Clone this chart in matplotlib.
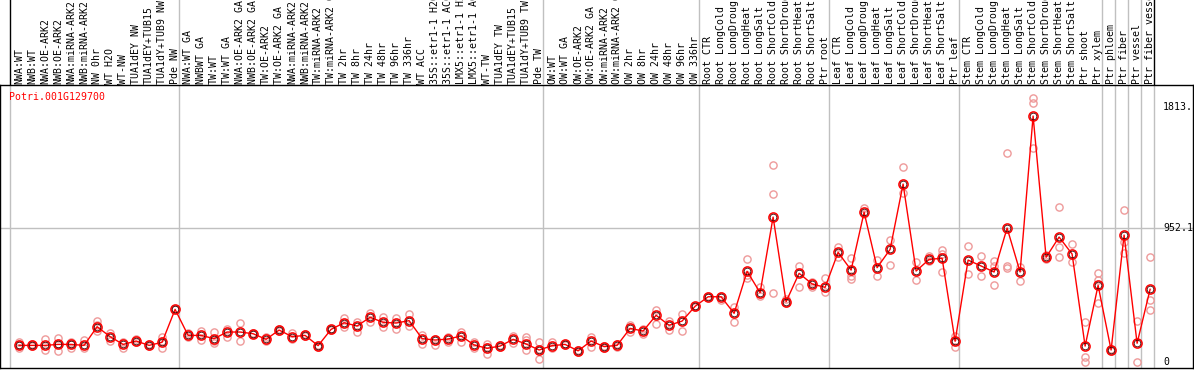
import matplotlib
matplotlib.use("Agg")
import matplotlib.pyplot as plt
import matplotlib.transforms as mtransforms
import numpy as np

# sample names, in the order they are plotted
labels = [
    "NWA:WT", "NWB:WT", "NWA:OE-ARK2", "NWB:OE-ARK2", "NWA:miRNA-ARK2", "NWB:miRNA-ARK2",
    "NW 0hr", "WT H2O", "WT-NW", "TUA1dEY NW", "TUA1dEY+TUB15", "TUA1dY+TUB9 NW", "Pde NW",
    "NWA:WT GA", "NWBWT GA", "TW:WT", "TW:WT GA", "NWA:OE-ARK2 GA", "NWB:OE-ARK2 GA",
    "TW:OE-ARK2", "TW:OE-ARK2 GA", "NWA:miRNA-ARK2", "NWB:miRNA-ARK2", "TW:miRNA-ARK2",
    "TW:miRNA-ARK2 GA", "TW 2hr", "TW 8hr", "TW 24hr", "TW 48hr", "TW 96hr", "TW 336hr",
    "WT ACC", "35S::etr1-1 H2O", "35S::etr1-1 ACC", "LMX5::etr1-1 H2O", "LMX5::etr1-1 ACC",
    "WT-TW", "TUA1dEY TW", "TUA1dEY+TUB15", "TUA1dY+TUB9 TW", "Pde TW",
    "OW:WT", "OW:WT GA", "OW:OE-ARK2", "OW:OE-ARK2 GA", "OW:miRNA-ARK2", "OW:miRNA-ARK2 GA",
    "OW 2hr", "OW 8hr", "OW 24hr", "OW 48hr", "OW 96hr", "OW 336hr",
    "Root CTR", "Root LongCold", "Root LongDrought", "Root LongHeat", "Root LongSalt",
    "Root ShortCold", "Root ShortDrought", "Root ShortHeat", "Root ShortSalt", "Ptr root",
    "Leaf CTR", "Leaf LongCold", "Leaf LongDrought", "Leaf LongHeat", "Leaf LongSalt",
    "Leaf ShortCold", "Leaf ShortDrought", "Leaf ShortHeat", "Leaf ShortSalt", "Ptr leaf",
    "Stem CTR", "Stem LongCold", "Stem LongDrought", "Stem LongHeat", "Stem LongSalt",
    "Stem ShortCold", "Stem ShortDrought", "Stem ShortHeat", "Stem ShortSalt",
    "Ptr shoot", "Ptr xylem", "Ptr phloem", "Ptr fiber", "Ptr vessel", "Ptr fiber vessel",
]
group_sizes = [13, 28, 12, 10, 10, 11, 1, 1, 1, 1]

means = [
    117, 117, 117, 124, 124, 117, 250, 179, 124, 148, 117, 139, 373,
    188, 188, 165, 212, 212, 200, 160, 226, 179, 188, 115, 231, 278, 255, 317, 281, 276,
    293, 165, 155, 162, 184, 120, 96, 112, 160, 127, 84,
    115, 124, 78, 148, 108, 117, 238, 219, 331, 260, 290, 395,
    463, 463, 345, 644, 492, 1030, 428, 630, 554, 530,
    779, 653, 1064, 670, 800, 1265, 646, 729, 737, 146,
    724, 682, 639, 952, 639, 1749, 744, 888, 767, 112, 544,
    84, 902, 132, 516,
]

reps = [
    [141, 96, 117], [117, 124, 110], [160, 86], [167, 75, 128], [139, 96, 130], [155, 96],
    [293, 222, 260], [203, 150], [139, 96], [160, 140], [124, 112], [179, 96, 150], [373, 378],
    [203, 174], [222, 155], [210, 136, 150], [236, 179], [278, 148], [205, 195], [174, 150],
    [232, 220], [203, 160], [195, 182], [122, 108], [236, 226], [309, 250], [285, 212],
    [345, 285], [321, 250], [314, 231], [340, 255], [191, 124], [160, 120], [174, 141],
    [214, 143], [143, 96], [127, 56, 105], [117, 108], [186, 136], [174, 155, 84], [141, 18, 90],
    [141, 96], [130, 118], [84, 72], [179, 108], [115, 100], [124, 108], [260, 210], [230, 196],
    [369, 269], [293, 226], [340, 222], [400, 390],
    [468, 458], [440, 470], [388, 285], [729, 594, 620], [530, 470], [1399, 1194, 487],
    [450, 420], [682, 530], [570, 530], [594, 499],
    [819, 748], [737, 611, 589], [1092, 1050], [724, 611], [867, 687], [1384, 1199],
    [708, 582], [750, 720], [796, 639, 770], [184, 108, 150],
    [824, 625], [753, 611], [717, 547, 680], [1484, 682, 665], [677, 575], [1875, 1844, 1520],
    [760, 730], [1100, 819, 744], [838, 712], [281, 32, 1], [630, 582, 421],
    [90, 80], [1080, 855, 777], [293, 0], [744, 438, 367],
]

gene = "Potri.001G129700"
ytick_vals = [0, 952.1, 1813]
ytick_text = ["0", "952.1", "1813."]

W, H = 1194, 370
fig = plt.figure(figsize=(W / 100, H / 100), dpi=100)
mono = "DejaVu Sans Mono"
grey = "#c0c0c0"

n = len(labels)
xpos = np.arange(n) + 0.7
bounds = np.concatenate([[0], np.cumsum(group_sizes)])
xlim = (-10 / 13, (W - 1 - 10) / 13)

# main plot area
ax = fig.add_axes([0, 2 / H, (W - 1) / W, 283 / H])
ax.set_xlim(*xlim)
ax.set_ylim(-44, 1970)
ax.set_xticks([])
ax.set_yticks([])
for s in ax.spines.values():
    s.set_color("black")
    s.set_linewidth(1)

for b in bounds:
    ax.axvline(b, color=grey, lw=1, zorder=1)
ax.axhline(ytick_vals[1], color=grey, lw=1, zorder=1)

for x, r in zip(xpos, reps):
    ax.plot([x] * len(r), r, "o", ms=5.2, mfc="none", mec="#ee9a9a", mew=1.0, zorder=2)
ax.plot(xpos, means, "-", color="red", lw=1.0, zorder=3)
ax.plot(xpos, means, "o", ms=6.6, mfc="none", mec="red", mew=1.1, zorder=4)
ax.plot(xpos, means, "o", ms=4.8, mfc="none", mec="#400000", mew=0.6, zorder=5)

tr = mtransforms.blended_transform_factory(ax.transAxes, ax.transData)
for v, t in zip(ytick_vals, ytick_text):
    ax.text(1163 / (W - 1), v, t, transform=tr, ha="left", va="center",
            family=mono, fontsize=7.1, color="black")

ax.text(9 / (W - 1), 1 - 11.5 / 283, gene, transform=ax.transAxes, ha="left", va="center",
        family=mono, fontsize=7.1, color="red")

# label strip on top
axt = fig.add_axes([0, (H - 85) / H, (W - 1) / W, 85 / H])
axt.set_xlim(*xlim)
axt.set_ylim(85, 0)
axt.axis("off")
for b in bounds:
    c = "black" if b in (0, bounds[-1]) else grey
    axt.axvline(b, color=c, lw=1)
for x, t in zip(xpos, labels):
    axt.text(x, 83.5, t, rotation=90, ha="center", va="bottom", family=mono,
             fontsize=7.1, color="black")

fig.savefig("out.png", dpi=100)
